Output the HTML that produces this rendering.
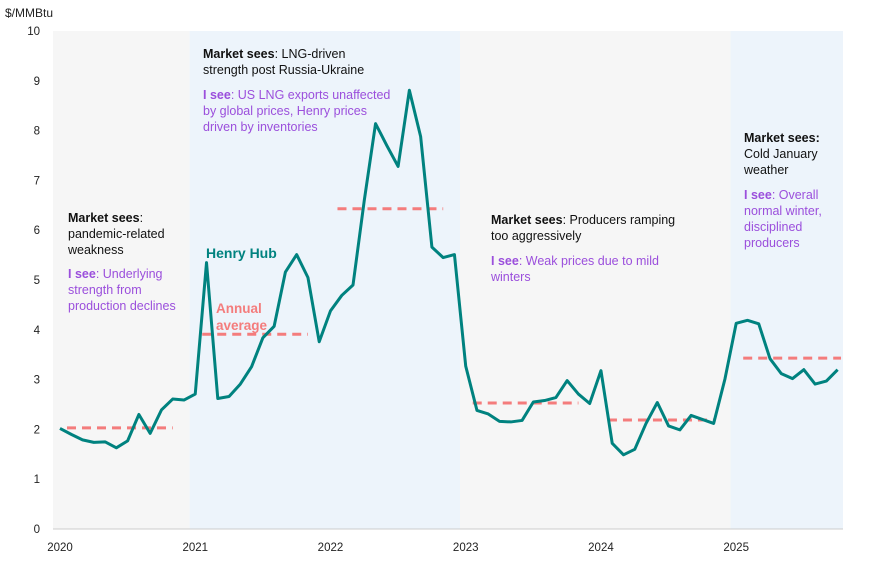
<!DOCTYPE html>
<html><head><meta charset="utf-8"><style>
body{margin:0;background:#fff;font-family:"Liberation Sans",sans-serif;}
svg text{font-family:"Liberation Sans",sans-serif;}
.ann{font-size:12.5px;fill:#111}
.isee{font-size:12.5px;fill:#9b4fdc}
</style></head><body>
<svg id="chart" width="878" height="566" xmlns="http://www.w3.org/2000/svg">
<g id="bg"></g><g id="grid"></g><g id="avg"></g><g id="line"></g><g id="ax"></g>
<text x="5" y="17" font-size="12" fill="#222">$/MMBtu</text>
<g>
<text class="ann" x="68" y="222"><tspan font-weight="bold">Market sees</tspan>:</text>
<text class="ann" x="68" y="238">pandemic-related</text>
<text class="ann" x="68" y="254">weakness</text>
<text class="isee" x="68" y="278"><tspan font-weight="bold">I see</tspan>: Underlying</text>
<text class="isee" x="68" y="294">strength from</text>
<text class="isee" x="68" y="310">production declines</text>
</g>
<g>
<text class="ann" x="203" y="58"><tspan font-weight="bold">Market sees</tspan>: LNG-driven</text>
<text class="ann" x="203" y="74">strength post Russia-Ukraine</text>
<text class="isee" x="203" y="99"><tspan font-weight="bold">I see</tspan>: US LNG exports unaffected</text>
<text class="isee" x="203" y="115">by global prices, Henry prices</text>
<text class="isee" x="203" y="131">driven by inventories</text>
</g>
<g>
<text class="ann" x="491" y="224"><tspan font-weight="bold">Market sees</tspan>: Producers ramping</text>
<text class="ann" x="491" y="240">too aggressively</text>
<text class="isee" x="491" y="265"><tspan font-weight="bold">I see</tspan>: Weak prices due to mild</text>
<text class="isee" x="491" y="281">winters</text>
</g>
<g>
<text class="ann" x="744" y="142" font-weight="bold">Market sees:</text>
<text class="ann" x="744" y="158">Cold January</text>
<text class="ann" x="744" y="174">weather</text>
<text class="isee" x="744" y="199"><tspan font-weight="bold">I see</tspan>: Overall</text>
<text class="isee" x="744" y="215">normal winter,</text>
<text class="isee" x="744" y="231">disciplined</text>
<text class="isee" x="744" y="247">producers</text>
</g>
<text x="206" y="258" font-size="14" font-weight="bold" fill="#00827f">Henry Hub</text>
<text x="216" y="313" font-size="13.5" font-weight="bold" fill="#f47c7c">Annual</text>
<text x="216" y="330" font-size="13.5" font-weight="bold" fill="#f47c7c">average</text>
</svg>
<script>
const prices=[2.02,1.9,1.79,1.74,1.75,1.63,1.77,2.3,1.92,2.39,2.61,2.59,
2.71,5.35,2.62,2.66,2.91,3.26,3.84,4.07,5.16,5.51,5.05,3.76,
4.38,4.69,4.9,6.6,8.14,7.7,7.28,8.81,7.88,5.66,5.45,5.51,
3.27,2.38,2.31,2.16,2.15,2.18,2.55,2.58,2.64,2.98,2.71,2.52,
3.18,1.72,1.49,1.6,2.12,2.54,2.07,1.99,2.28,2.2,2.12,3.01,
4.13,4.19,4.12,3.42,3.12,3.02,3.2,2.91,2.97,3.2];
const years=[2020,2021,2022,2023,2024,2025];
const avgs=[2.03,3.91,6.43,2.53,2.19,3.43];
const yTicks=[0,1,2,3,4,5,6,7,8,9,10];
const NS="http://www.w3.org/2000/svg";
const X=m=>60+m*11.27;
const Y=v=>529-v*49.8;
function mk(t,a,p){const e=document.createElementNS(NS,t);for(const k in a)e.setAttribute(k,a[k]);document.getElementById(p).appendChild(e);return e;}
const bands=[[53,X(11.5),'#f6f6f6'],[X(11.5),X(35.5),'#edf4fb'],[X(35.5),X(59.5),'#f6f6f6'],[X(59.5),843,'#edf4fb']];
bands.forEach((b,i)=>{const r=mk('rect',{x:b[0],y:Y(10),width:b[1]-b[0],height:Y(0)-Y(10),fill:b[2]},'bg');

});
yTicks.forEach(t=>{const tx=mk('text',{x:40,y:Y(t)+4,'text-anchor':'end','font-size':11.5,fill:'#222'},'ax');tx.textContent=t;

});
mk('line',{x1:53,x2:843,y1:Y(0),y2:Y(0),stroke:'#ccc'},'ax');
years.forEach((y,i)=>{const tx=mk('text',{x:X(i*12),y:551,'text-anchor':'middle','font-size':11.5,fill:'#222'},'ax');tx.textContent=y;

});
avgs.forEach((a,i)=>{const n=i==5?9.3:10;const l=mk('line',{x1:X(i*12)+7,x2:X(i*12+n),y1:Y(a),y2:Y(a),stroke:'#f47c7c','stroke-width':3,'stroke-dasharray':'9,6'},'avg');

});
const p=mk('polyline',{points:prices.map((v,i)=>X(i)+','+Y(v)).join(' '),fill:'none',stroke:'#00827f','stroke-width':3,'stroke-linejoin':'round'},'line');


</script>
</body></html>
